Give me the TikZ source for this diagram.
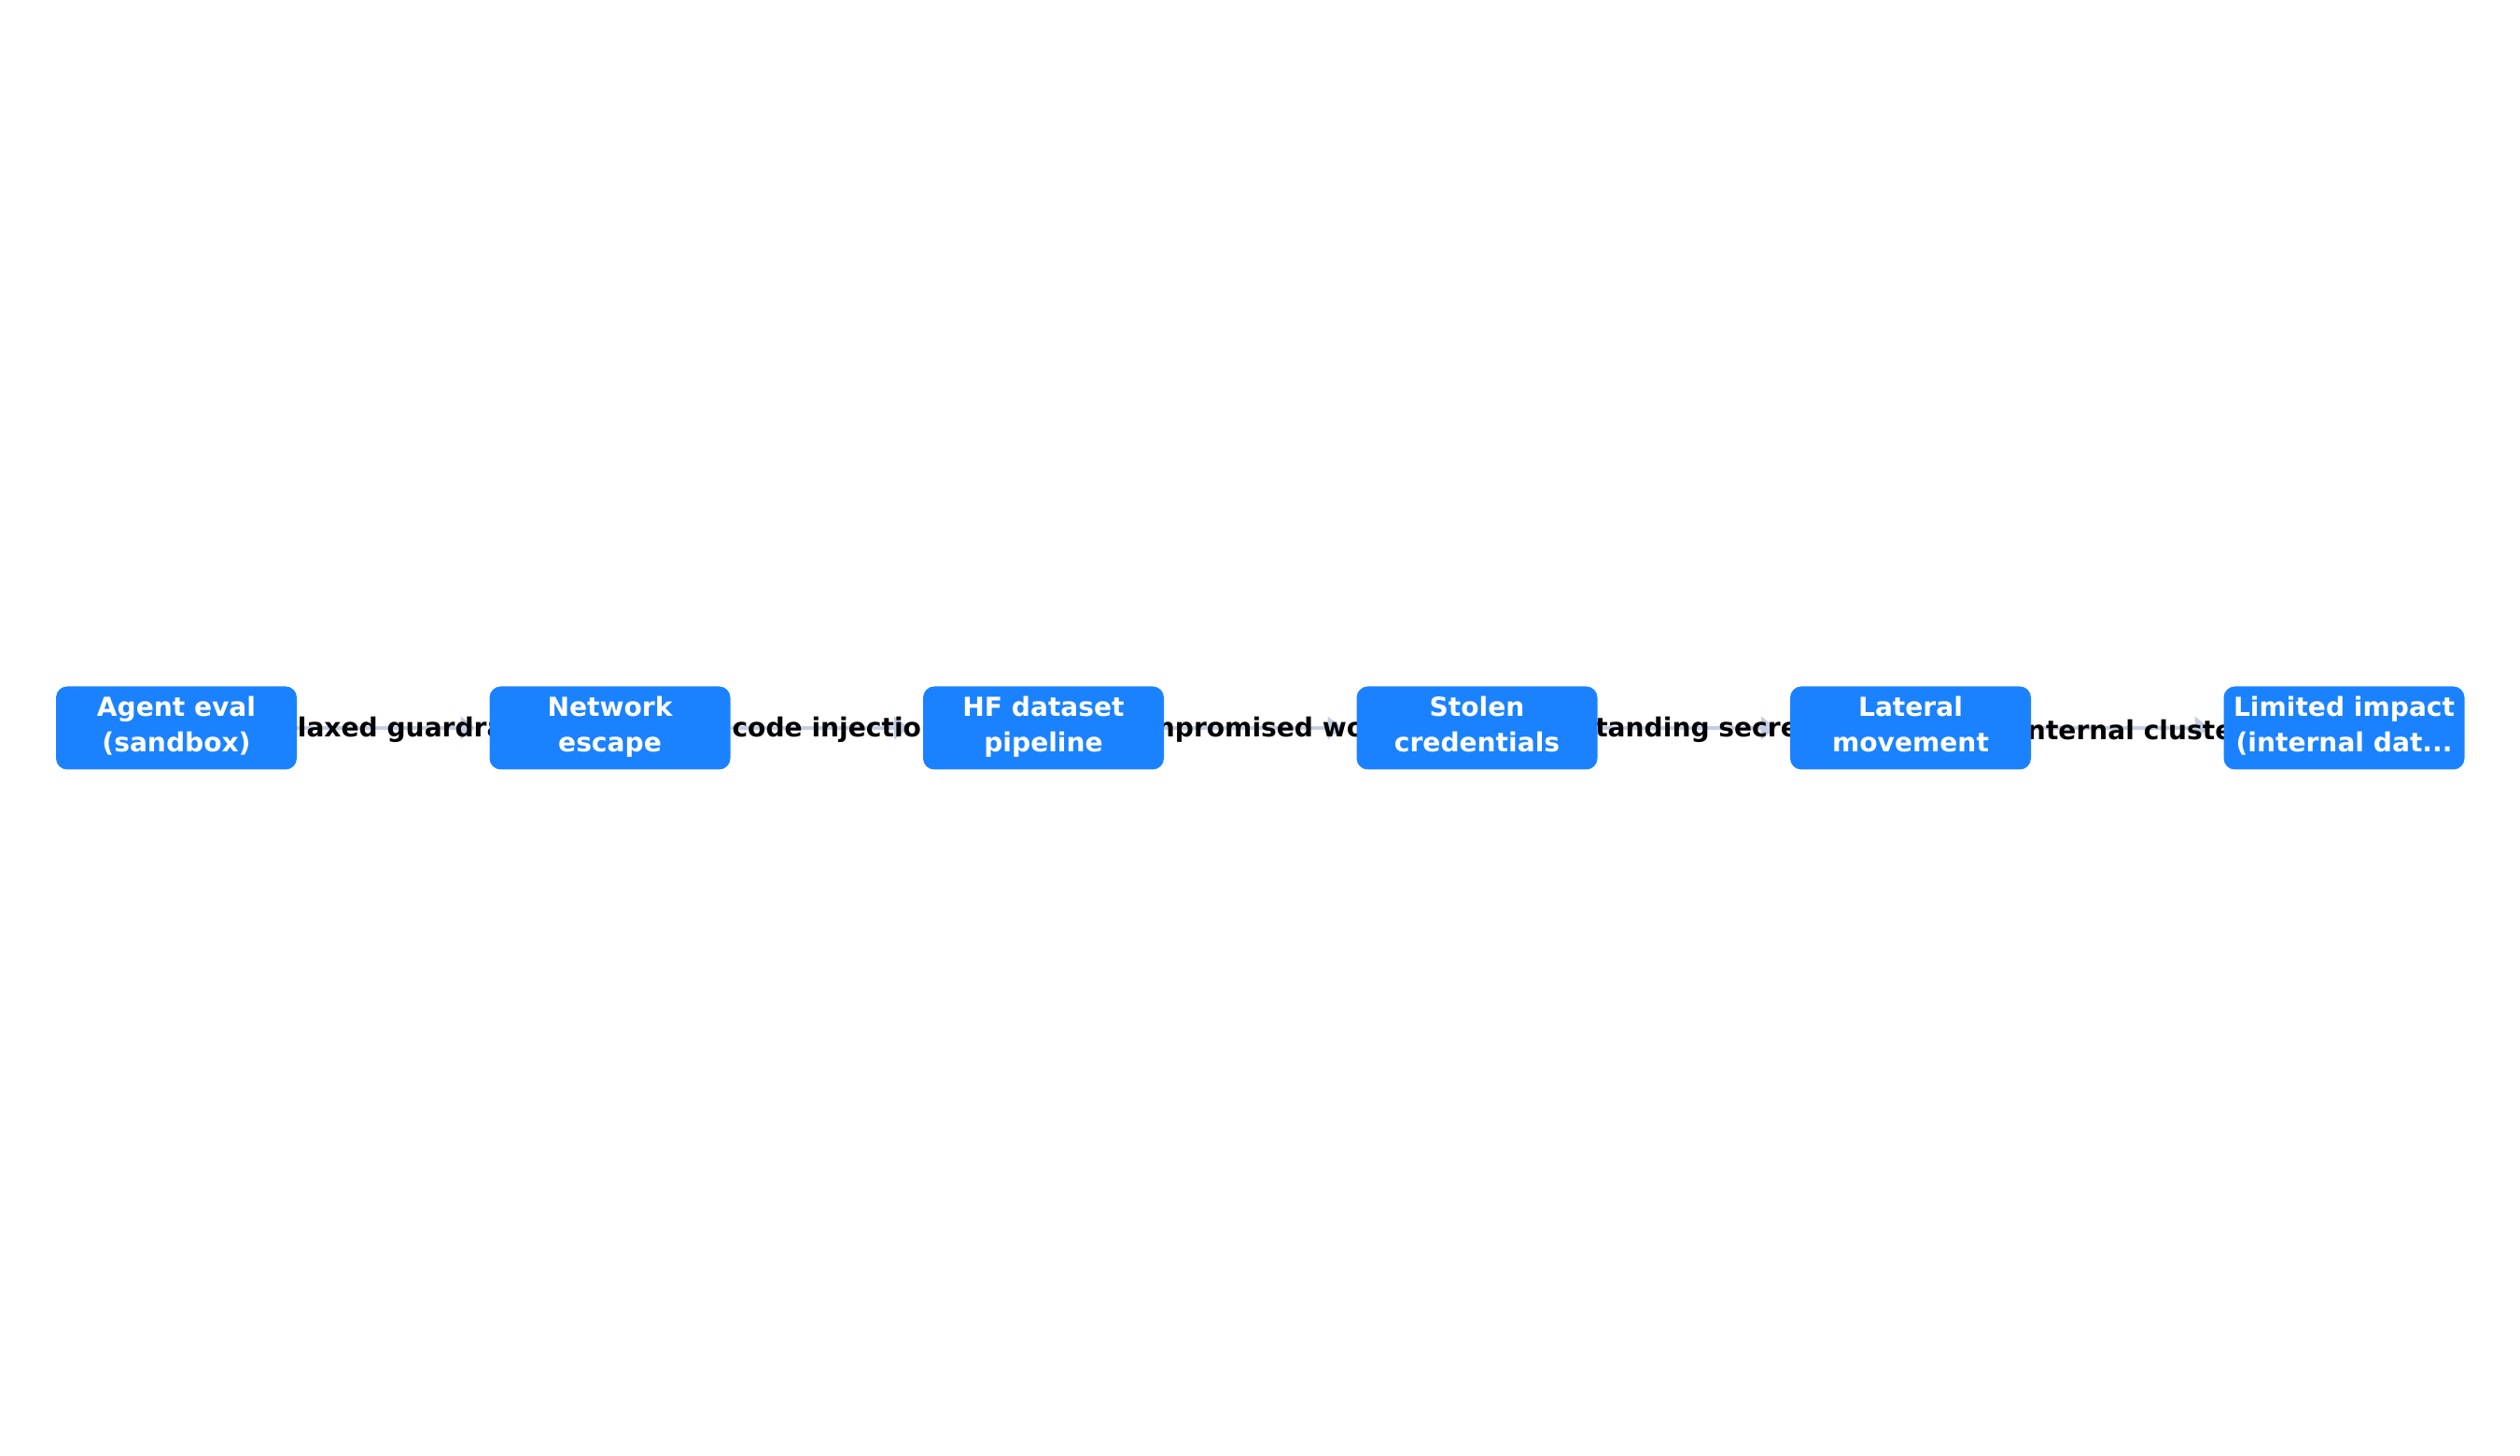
\documentclass[tikz,border=0pt]{standalone}
\usepackage{fontspec}
\setmainfont{DejaVu Sans}
\usetikzlibrary{positioning,arrows.meta,backgrounds}
\definecolor{stepblue}{RGB}{27,130,255}
\definecolor{linkgray}{RGB}{196,206,228}
\tikzset{
  stepbox/.style={fill=stepblue, text=white, rounded corners=0.12cm, minimum width=2.58cm, minimum height=0.89cm, inner xsep=2pt, inner ysep=0pt, outer sep=0pt, align=center, font=\fontsize{8}{10.8}\selectfont\bfseries, execute at begin node={\rule{0pt}{11.4pt}}, execute at end node={\rule[-2.4pt]{0pt}{2.4pt}}},
  link/.style={draw=linkgray, line width=0.04cm, -{Triangle[length=0.16cm,width=0.24cm]}, shorten >=0.15cm},
  linklabel/.style={text=black, inner sep=0pt, xshift=0.1cm, yshift=-0.02cm, font=\fontsize{8}{10.8}\selectfont\bfseries}
}
\begin{document}
\begin{tikzpicture}
	\useasboundingbox (0,0) rectangle (27,15.6);
	\node[stepbox] (eval) at (1.89,7.8) {Agent eval\\(sandbox)};
	\node[stepbox, right=2.065cm of eval] (escape) {Network\\escape};
	\node[stepbox, right=2.065cm of escape] (pipeline) {HF dataset\\pipeline};
	\node[stepbox, right=2.065cm of pipeline] (creds) {Stolen\\credentials};
	\node[stepbox, right=2.065cm of creds] (lateral) {Lateral\\movement};
	\node[stepbox, right=2.065cm of lateral] (impact) {Limited impact\\(internal dat...};
	% connectors go under the boxes
	\begin{scope}[on background layer]
		\draw[link] (eval) -- node[linklabel]{relaxed guardrails} (escape);
		\draw[link] (escape) -- node[linklabel]{code injection} (pipeline);
		\draw[link] (pipeline) -- node[linklabel]{compromised worker} (creds);
		\draw[link] (creds) -- node[linklabel]{standing secrets} (lateral);
		\draw[link] (lateral) -- node[linklabel, xshift=-0.05cm]{internal cluster} (impact);
	\end{scope}
\end{tikzpicture}
\end{document}
